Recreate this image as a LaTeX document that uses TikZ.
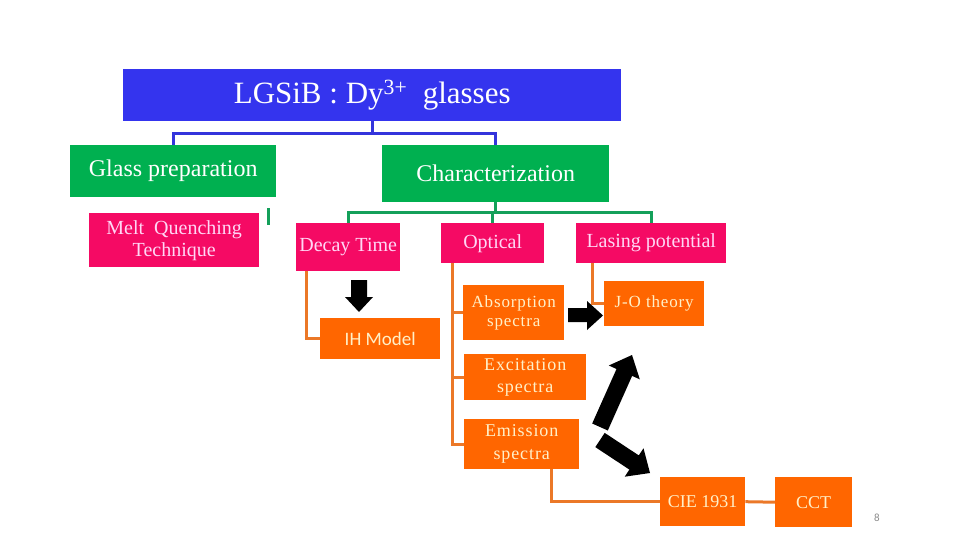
\documentclass[tikz,border=0pt]{standalone}
\usepackage{fontspec}
\setmainfont{Liberation Serif}
\newfontfamily\calibrifont{Carlito}
\newfontfamily\spacedserif{Liberation Serif}[LetterSpace=5]
\usetikzlibrary{calc}
\definecolor{cblue}{RGB}{52,52,238}
\definecolor{cgreen}{RGB}{0,176,80}
\definecolor{cmag}{RGB}{245,10,100}
\definecolor{corange}{RGB}{255,102,0}
\definecolor{lblue}{RGB}{52,52,220}
\definecolor{lgreen}{RGB}{20,160,90}
\definecolor{lorange}{RGB}{235,120,40}
\definecolor{pinktext}{RGB}{255,215,245}
\definecolor{yeltext}{RGB}{255,240,200}
\definecolor{pagegray}{RGB}{140,140,140}
\begin{document}
\begin{tikzpicture}[x=1pt,y=-1pt,
  box/.style={rectangle, inner sep=0pt, anchor=north west, align=center},
  bluebox/.style={box, fill=cblue, text=white},
  greenbox/.style={box, fill=cgreen, text=white, font=\fontsize{24}{28}\selectfont},
  magbox/.style={box, fill=cmag, text=pinktext, font=\fontsize{20}{22}\selectfont},
  orbox/.style={box, fill=corange, text=yeltext},
  bline/.style={draw=lblue, line width=3pt},
  gline/.style={draw=lgreen, line width=3pt},
  oline/.style={draw=lorange, line width=3pt},
  blk/.style={fill=black}]
\useasboundingbox (0,0) rectangle (960,540);
\fill[white] (0,0) rectangle (960,540);

% nodes
\node[bluebox, minimum width=498pt, minimum height=52pt, font=\fontsize{31}{37}\selectfont] (title) at (123,69) {LGSiB : Dy\textsuperscript{3+}\ \ glasses};
\node[greenbox, minimum width=206pt, minimum height=52pt] (gp) at (70,145) {Glass preparation};
\node[greenbox, minimum width=227pt, minimum height=57pt] (char) at (382,145) {Characterization};
\node[magbox, minimum width=170pt, minimum height=54pt] (melt) at (89,213) {Melt\ \ Quenching\\Technique};
\node[magbox, minimum width=104pt, minimum height=48pt] (decay) at (296,223) {Decay Time};
\node[magbox, minimum width=103pt, minimum height=40pt] (optical) at (441,223) {Optical};
\node[magbox, minimum width=150pt, minimum height=40pt] (lasing) at (576,223) {Lasing potential};
\node[orbox, minimum width=120pt, minimum height=41pt, font=\calibrifont\fontsize{19}{22}\selectfont] (ih) at (320,318) {IH Model};
\node[orbox, minimum width=101pt, minimum height=55pt, font=\spacedserif\fontsize{17}{19}\selectfont] (abs) at (463,285) {Absorption\\spectra};
\node[orbox, minimum width=122pt, minimum height=46pt, font=\spacedserif\fontsize{18}{22}\selectfont] (exc) at (464,354) {Excitation\\spectra};
\node[orbox, minimum width=115pt, minimum height=50pt, font=\spacedserif\fontsize{18}{23}\selectfont] (emi) at (464,419) {Emission\\spectra};
\node[orbox, minimum width=100pt, minimum height=45pt, font=\spacedserif\fontsize{17}{20}\selectfont] (jo) at (604,281) {J-O theory};
\node[orbox, minimum width=85pt, minimum height=49pt, font=\fontsize{18}{21}\selectfont] (cie) at (660,477) {CIE 1931};
\node[orbox, minimum width=77pt, minimum height=50pt, font=\fontsize{18}{21}\selectfont] (cct) at (775,477) {CCT};
\node[text=pagegray, font=\calibrifont\fontsize{11}{13}\selectfont, inner sep=0pt] (page) at (877,518) {8};

% blue connectors
\coordinate (bbus) at ($(title.south)+(0,12)$);
\draw[bline] (title.south) -- (bbus);
\draw[bline] (gp.north) |- (bbus) -| (char.north);

% green connectors
\coordinate (gbus) at ($(char.south)+(0,10)$);
\draw[gline] (char.south) -- (gbus);
\draw[gline] (decay.north) |- (gbus) -| (lasing.north);
\draw[gline] (gbus) -| (optical.north);
\coordinate (stubA) at (268,208);
\coordinate (stubB) at (268,225);
\draw[gline] (stubA) -- (stubB);

% orange connectors
\coordinate (d1) at ($(decay.south west)+(10,0)$);
\draw[oline] (d1) |- (ih.west);
\coordinate (o1) at ($(optical.south west)+(11,0)$);
\draw[oline] (o1) |- (emi.west);
\draw[oline] (o1) |- (abs.west);
\draw[oline] (o1) |- (exc.west);
\coordinate (l1) at ($(lasing.south west)+(16,0)$);
\draw[oline] (l1) |- (jo.west);
\coordinate (e1) at ($(emi.south east)+(-28,0)$);
\draw[oline] (e1) |- (cie.west);
\draw[oline] (cie.east) -- (cct.west);

% black block arrows
\fill[blk] (351,280) -- (367,280) -- (367,297) -- (373,297) -- (359,312) -- (345,297) -- (351,297) -- cycle;
\fill[blk] (568,308) -- (587,308) -- (587,301) -- (603,315.5) -- (587,330) -- (587,322) -- (568,322) -- cycle;
\fill[blk] (607.8,430.5) -- (592.2,423.5) -- (616.5,369.0) -- (608.8,365.5) -- (632,355) -- (639.8,379.3) -- (632.1,375.9) -- cycle;
\fill[blk] (595.3,447.1) -- (604.7,432.9) -- (638.8,455.4) -- (643.5,448.3) -- (650,473) -- (624.7,476.7) -- (629.4,469.6) -- cycle;
\end{tikzpicture}
\end{document}
